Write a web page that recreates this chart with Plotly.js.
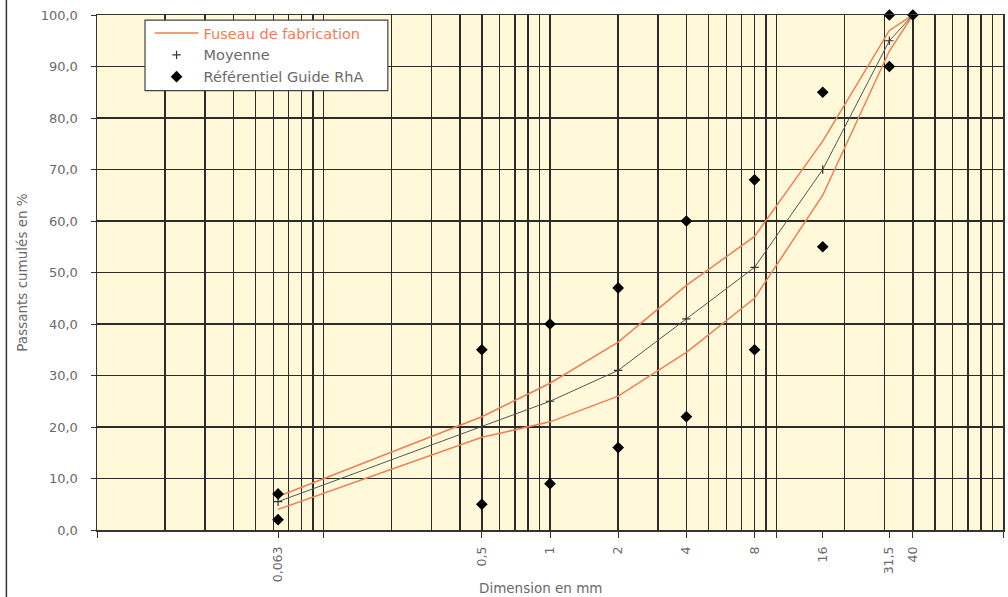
<!DOCTYPE html>
<html>
<head>
<meta charset="utf-8">
<script src="https://cdn.plot.ly/plotly-3.0.1.min.js"></script>
<style>html,body{margin:0;padding:0;background:#fff;}#chart{width:1008px;height:597px;}</style>
</head>
<body>
<div id="chart"></div>
<script>
// Sieve sizes (mm)
const sieves = [0.063, 0.5, 1, 2, 4, 8, 16, 31.5, 40];
const sieveLabels = ['0,063', '0,5', '1', '2', '4', '8', '16', '31,5', '40'];
// Fuseau de fabrication (upper / lower envelope)
const fuseauHaut = [6.5, 22, 28.5, 36.5, 47.5, 57, 75.5, 97, 100];
const fuseauBas  = [4, 18, 21, 26, 34.5, 45, 65, 93, 100];
// Moyenne
const moyenne = [5.5, 20, 25, 31, 41, 51, 70, 95, 100];
// Référentiel Guide RhA (limits)
const refX = [0.063, 0.063, 0.5, 0.5, 1, 1, 2, 2, 4, 4, 8, 8, 16, 16, 31.5, 31.5, 40];
const refY = [7, 2, 35, 5, 40, 9, 47, 16, 60, 22, 68, 35, 85, 55, 100, 90, 100];

// log grid positions 1..9 x 10^k
const gridVals = [];
for (let e = -2; e <= 1; e++) for (let m = 1; m <= 9; m++) gridVals.push(m * Math.pow(10, e));
gridVals.push(100);
const decades = [0.01, 0.1, 10, 100];
const tickVals = sieves.concat(decades);
const tickText = sieveLabels.concat(decades.map(() => ''));

const orange = '#F27D55';
const grey = '#6a6a6a';
const fnt = 'DejaVu Sans, Verdana, sans-serif';
const traces = [
  {x: sieves, y: fuseauHaut, type: 'scatter', mode: 'lines', name: '<span style="color:#F27D55">Fuseau de fabrication</span>',
   line: {color: orange, width: 1.5}, legendgroup: 'f', cliponaxis: false},
  {x: sieves, y: fuseauBas, type: 'scatter', mode: 'lines', name: 'Fuseau de fabrication', showlegend: false,
   line: {color: orange, width: 1.5}, legendgroup: 'f', cliponaxis: false},
  {x: sieves, y: moyenne, type: 'scatter', mode: 'lines', name: 'Moyenne', showlegend: false, legendgroup: 'm',
   line: {color: '#555555', width: 1}, cliponaxis: false},
  {x: sieves, y: moyenne, type: 'scatter', mode: 'markers', name: 'Moyenne', legendgroup: 'm',
   marker: {symbol: 'cross-thin', size: 6, line: {color: '#333', width: 1.2}}, cliponaxis: false},
  {x: refX, y: refY, type: 'scatter', mode: 'markers', name: 'Référentiel Guide RhA',
   marker: {symbol: 'diamond', size: 9, color: '#000'}, cliponaxis: false}
];

const layout = {
  width: 1008, height: 597,
  margin: {l: 97, r: 5, t: 15, b: 67},
  paper_bgcolor: '#ffffff',
  plot_bgcolor: '#FFF9DA',
  separators: ', ',
  font: {family: fnt, size: 13, color: grey},
  showlegend: true,
  legend: {x: 0.058, y: 0.996, xanchor: 'left', yanchor: 'top', bgcolor: 'rgba(0,0,0,0)', borderwidth: 0,
           font: {family: fnt, size: 14.5, color: grey}, itemwidth: 44, tracegroupgap: 0},
  xaxis: {
    type: 'log', range: [-2, 2], tickmode: 'array', tickvals: tickVals, ticktext: tickText,
    tickangle: -90, ticks: 'outside', ticklen: 6, tickcolor: '#333', tickfont: {family: fnt, size: 12.5, color: grey},
    ticklabelstandoff: 4,
    showgrid: false, showline: true, linecolor: '#333', linewidth: 1.5, mirror: true, zeroline: false,
    minor: {tickmode: 'array', tickvals: gridVals, showgrid: true, gridcolor: '#2b2b2b', gridwidth: 1.4, ticks: ''}
  },
  yaxis: {
    range: [0, 100], dtick: 10, tick0: 0, tickformat: '.1f', ticks: 'outside', ticklen: 5, tickcolor: '#333',
    ticklabelstandoff: 10,
    showgrid: true, gridcolor: '#2b2b2b', gridwidth: 1.4, showline: true, linecolor: '#333', linewidth: 1.5,
    mirror: true, zeroline: false, tickfont: {family: fnt, size: 13, color: grey},
    title: {text: 'Passants cumulés en %', font: {family: fnt, size: 13.5, color: grey}, standoff: 10}
  },
  annotations: [
    {text: 'Dimension en mm', xref: 'paper', yref: 'paper', x: 0.49, y: -0.113, xanchor: 'center', yanchor: 'middle',
     showarrow: false, font: {family: fnt, size: 13.5, color: grey}}
  ],
  shapes: [
    {type: 'rect', xref: 'paper', yref: 'paper', x0: 0.053, x1: 0.321, y0: 0.853, y1: 0.99,
     fillcolor: '#ffffff', line: {color: '#444', width: 1.2}, layer: 'above'},
    {type: 'line', xref: 'paper', yref: 'paper', x0: -0.1, x1: -0.1, y0: -0.2, y1: 1.1, line: {color: '#333', width: 1.5}}
  ]
};

Plotly.newPlot('chart', traces, layout, {displayModeBar: false, staticPlot: true});
</script>
</body>
</html>
